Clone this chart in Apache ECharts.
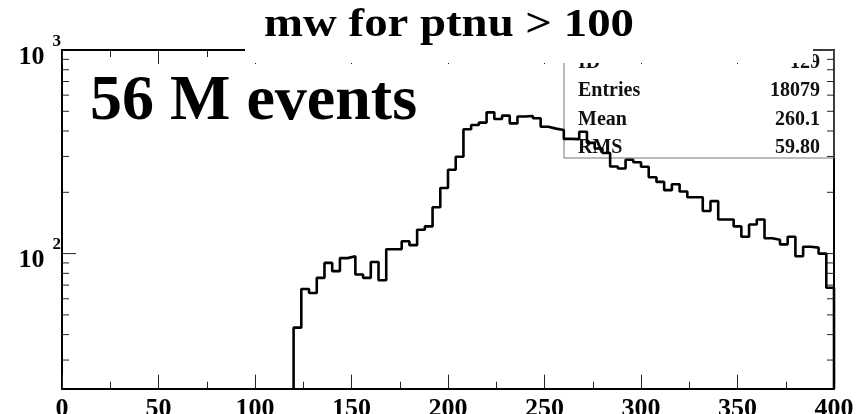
<!DOCTYPE html>
<html>
<head>
<meta charset="utf-8">
<script src="https://cdn.jsdelivr.net/npm/echarts@6/dist/echarts.min.js"></script>
<style>
  html, body { margin: 0; padding: 0; background: #fff; }
  #chart { width: 857px; height: 414px; }
</style>
</head>
<body>
<div id="chart"></div>
<script>
// mw histogram: 4 GeV bins starting at 120
const binStart = 120;
const binWidth = 4;
const counts = [
  43.3, 67, 64, 76, 90, 82, 95, 97, 79, 76,
  91, 74, 105, 105, 115, 110, 131, 136, 169, 210,
  258, 299, 408, 428, 440, 494, 458, 476, 436, 471,
  474, 462, 420, 411, 405, 366, 365, 397, 350, 328,
  312, 268, 262, 289, 281, 267, 237, 225, 205, 219,
  202, 189, 189, 162, 181, 147, 147, 136, 121, 139,
  147, 119, 117, 111, 121, 97, 108, 107, 100, 68
];

const xMin = 0, xMax = 400, xStep = 50;
const yMin = 21.7, yMax = 1000;
const yMajorTicks = [100];
const yMinorTicks = [30, 40, 50, 60, 70, 80, 90, 200, 300, 400, 500, 600, 700, 800, 900];

const titleText = 'mw for ptnu > 100';
const bannerText = '56 M events';
const statNames = ['ID', 'Entries', 'Mean', 'RMS'];
const statValues = ['129', '18079', '260.1', '59.80'];

const SERIF = '"Liberation Serif", "Times New Roman", Times, serif';

// outline of the histogram: flat top per bin, dropping to the axis floor at both ends
const outline = [[binStart, yMin]];
counts.forEach((c, i) => {
  const x0 = binStart + i * binWidth;
  outline.push([x0, c], [x0 + binWidth, c]);
});
outline.push([binStart + counts.length * binWidth, yMin]);

const tickData = yMajorTicks.map(v => [xMin, v, 14])
  .concat(yMinorTicks.map(v => [xMin, v, 7]));

const tickStyle = { color: '#222', width: 1 };

function xAxisDef(pos, withLabels) {
  return {
    type: 'value', position: pos, min: xMin, max: xMax, interval: xStep,
    axisLine: { show: true, onZero: false, lineStyle: { color: '#000', width: 2 } },
    axisTick: { show: true, inside: true, length: 14, lineStyle: tickStyle },
    minorTick: { show: true, splitNumber: 2, length: 7, lineStyle: tickStyle },
    splitLine: { show: false }, minorSplitLine: { show: false },
    axisLabel: withLabels ? {
      show: true, margin: 8, color: '#000',
      fontFamily: SERIF, fontWeight: 'bold', fontSize: 26
    } : { show: false }
  };
}

function yAxisDef(pos, withLabels) {
  return {
    type: 'log', logBase: 10, position: pos, min: yMin, max: yMax,
    axisLine: { show: true, onZero: false, lineStyle: { color: '#000', width: 2 } },
    axisTick: { show: false },
    splitLine: { show: false },
    axisLabel: withLabels ? {
      show: true, margin: 1,
      formatter: v => {
        const e = Math.round(Math.log10(v));
        return Math.abs(Math.log10(v) - e) < 1e-6 ? '{b|10}{s|' + e + '}' : '';
      },
      rich: {
        b: { fontFamily: SERIF, fontWeight: 'bold', fontSize: 26, color: '#000', padding: [14, 0, 0, 0] },
        s: { fontFamily: SERIF, fontWeight: 'bold', fontSize: 17, color: '#000', verticalAlign: 'top', padding: [3, 0, 0, 8] }
      }
    } : { show: false }
  };
}

const chart = echarts.init(document.getElementById('chart'), null, { renderer: 'canvas' });

const statRowY = [62.5, 91, 119.5, 148];

const graphics = [
  { type: 'rect', z: 1, shape: { x: 564, y: 50, width: 270, height: 108 },
    style: { fill: 'none', stroke: '#777', lineWidth: 1 } }
];
statNames.forEach((n, i) => {
  graphics.push({ type: 'text', z: 1, x: 578, y: statRowY[i],
    style: { text: n, fill: '#111', font: 'bold 20px ' + SERIF, textAlign: 'left', textVerticalAlign: 'middle' } });
  graphics.push({ type: 'text', z: 1, x: 820, y: statRowY[i],
    style: { text: statValues[i], fill: '#111', font: 'bold 20px ' + SERIF, textAlign: 'right', textVerticalAlign: 'middle' } });
});
graphics.push(
  { type: 'rect', z: 50, shape: { x: 245, y: 0, width: 568, height: 63 }, style: { fill: '#fff' } },
  { type: 'text', z: 51, x: 449, y: 26, scaleX: 1.2,
    style: { text: titleText, fill: '#000', font: 'bold 39px ' + SERIF, textAlign: 'center', textVerticalAlign: 'middle' } },
  { type: 'text', z: 51, x: 90, y: 102,
    style: { text: bannerText, fill: '#000', font: 'bold 64px ' + SERIF, textAlign: 'left', textVerticalAlign: 'middle' } }
);

chart.setOption({
  animation: false,
  backgroundColor: '#fff',
  grid: { left: 62, top: 50, width: 772, height: 338.7, containLabel: false, outerBoundsMode: 'none' },
  xAxis: [xAxisDef('bottom', true), xAxisDef('top', false)],
  yAxis: [yAxisDef('left', true), yAxisDef('right', false)],
  series: [
    {
      type: 'custom', xAxisIndex: 0, yAxisIndex: 0, silent: true, clip: false, z: 3,
      data: tickData,
      renderItem: (params, api) => {
        const v = api.value(1);
        const len = api.value(2);
        const l = api.coord([xMin, v]);
        const r = api.coord([xMax, v]);
        return {
          type: 'group',
          children: [
            { type: 'line', shape: { x1: l[0], y1: l[1], x2: l[0] + len, y2: l[1] }, style: { stroke: '#222', lineWidth: 1 } },
            { type: 'line', shape: { x1: r[0] - len, y1: r[1], x2: r[0], y2: r[1] }, style: { stroke: '#222', lineWidth: 1 } }
          ]
        };
      }
    },
    {
      type: 'line', xAxisIndex: 0, yAxisIndex: 0, data: outline,
      showSymbol: false, symbol: 'none', silent: true, z: 4,
      lineStyle: { color: '#000', width: 2.6 }
    }
  ],
  graphic: { elements: graphics }
});
</script>
</body>
</html>
